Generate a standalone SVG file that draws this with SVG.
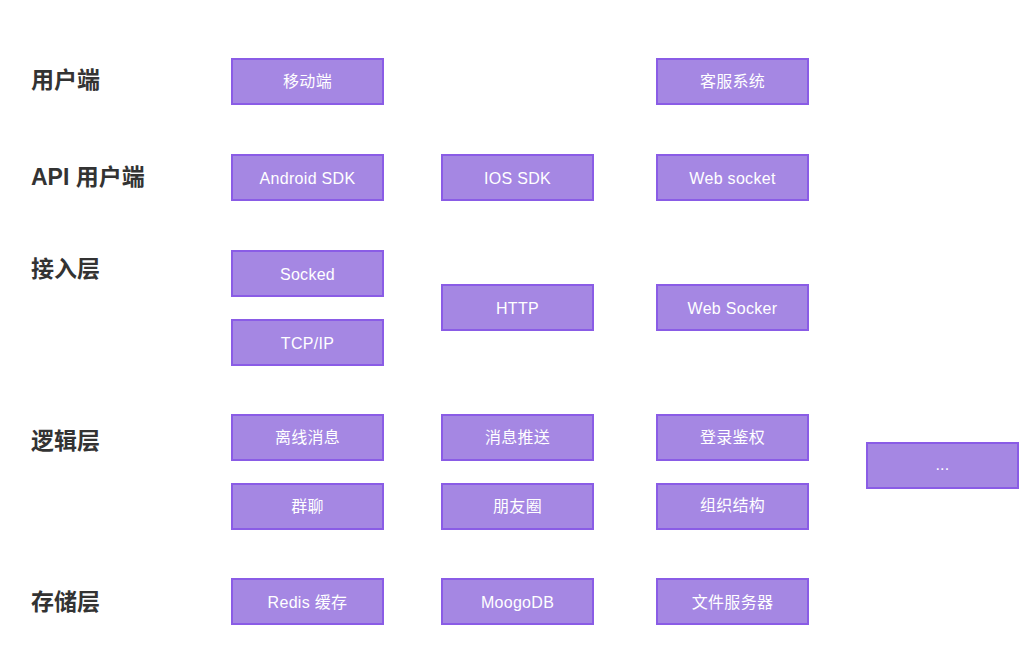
<svg xmlns="http://www.w3.org/2000/svg" width="1024" height="667" viewBox="0 0 1024 667">
<style>
.bg{fill:#ffffff}
.box{fill:#a587e3;stroke:#8a5ce6;stroke-width:2}
.bt{font-family:"Liberation Sans","Noto Sans CJK SC",sans-serif;font-size:16px;letter-spacing:0.3px;fill:#ffffff;text-anchor:middle}
.lbl{font-family:"Liberation Sans","Noto Sans CJK SC",sans-serif;font-size:23px;font-weight:600;fill:#333333}
</style>
<rect class="bg" x="0" y="0" width="1024" height="667"/>
<g id="labels">
<text class="lbl" x="31" y="88">用户端</text>
<text class="lbl" x="31" y="185">API 用户端</text>
<text class="lbl" x="31" y="277">接入层</text>
<text class="lbl" x="31" y="449">逻辑层</text>
<text class="lbl" x="31" y="610">存储层</text>
</g>
<g id="connectors"></g>
<g id="n1"><rect class="box" x="232" y="59" width="151" height="45"/><text class="bt" x="307.5" y="87">移动端</text></g>
<g id="n2"><rect class="box" x="657" y="59" width="151" height="45"/><text class="bt" x="732.5" y="87">客服系统</text></g>
<g id="n3"><rect class="box" x="232" y="155" width="151" height="45"/><text class="bt" x="307.5" y="184">Android SDK</text></g>
<g id="n4"><rect class="box" x="442" y="155" width="151" height="45"/><text class="bt" x="517.5" y="184">IOS SDK</text></g>
<g id="n5"><rect class="box" x="657" y="155" width="151" height="45"/><text class="bt" x="732.5" y="184">Web socket</text></g>
<g id="n6"><rect class="box" x="232" y="251" width="151" height="45"/><text class="bt" x="307.5" y="280">Socked</text></g>
<g id="n7"><rect class="box" x="232" y="320" width="151" height="45"/><text class="bt" x="307.5" y="349">TCP/IP</text></g>
<g id="n8"><rect class="box" x="442" y="285" width="151" height="45"/><text class="bt" x="517.5" y="314">HTTP</text></g>
<g id="n9"><rect class="box" x="657" y="285" width="151" height="45"/><text class="bt" x="732.5" y="314">Web Socker</text></g>
<g id="n10"><rect class="box" x="232" y="415" width="151" height="45"/><text class="bt" x="307.5" y="443">离线消息</text></g>
<g id="n11"><rect class="box" x="442" y="415" width="151" height="45"/><text class="bt" x="517.5" y="443">消息推送</text></g>
<g id="n12"><rect class="box" x="657" y="415" width="151" height="45"/><text class="bt" x="732.5" y="443">登录鉴权</text></g>
<g id="n13"><rect class="box" x="232" y="484" width="151" height="45"/><text class="bt" x="307.5" y="512">群聊</text></g>
<g id="n14"><rect class="box" x="442" y="484" width="151" height="45"/><text class="bt" x="517.5" y="512">朋友圈</text></g>
<g id="n15"><rect class="box" x="657" y="484" width="151" height="45"/><text class="bt" x="732.5" y="511">组织结构</text></g>
<g id="n16"><rect class="box" x="867" y="443" width="151" height="45"/><text class="bt" x="942.5" y="470">...</text></g>
<g id="n17"><rect class="box" x="232" y="579" width="151" height="45"/><text class="bt" x="307.5" y="608">Redis 缓存</text></g>
<g id="n18"><rect class="box" x="442" y="579" width="151" height="45"/><text class="bt" x="517.5" y="608">MoogoDB</text></g>
<g id="n19"><rect class="box" x="657" y="579" width="151" height="45"/><text class="bt" x="732.5" y="608">文件服务器</text></g>
</svg>
